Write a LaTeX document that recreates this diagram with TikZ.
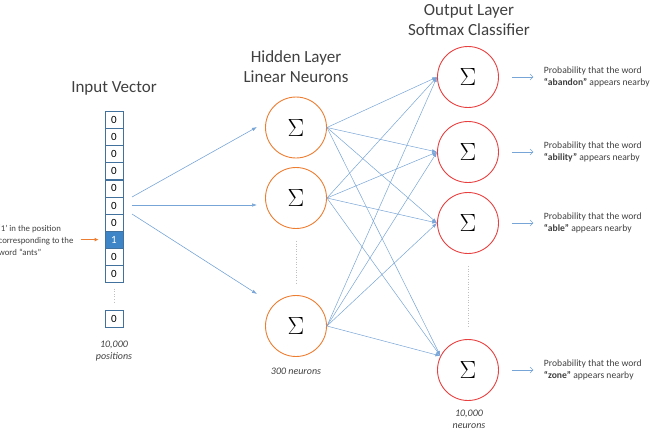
\documentclass[tikz,border=0pt]{standalone}
\usepackage{fontspec}
\setmainfont{Carlito}
\usetikzlibrary{arrows.meta,positioning}

\definecolor{cellblue}{RGB}{65,113,156}
\definecolor{hotblue}{RGB}{61,133,198}
\definecolor{linkblue}{RGB}{120,165,215}
\definecolor{hidorange}{RGB}{237,125,49}
\definecolor{outred}{RGB}{232,64,64}
\definecolor{inktext}{RGB}{64,64,64}

\begin{document}
\begin{tikzpicture}[x=1pt,y=-1pt,
   cell/.style={draw=cellblue, line width=0.8pt, minimum width=18pt, minimum height=17pt,
                inner sep=0pt, font=\fontsize{11}{11}\selectfont},
   bit0/.style={},
   bit1/.style={fill=hotblue, text=white},
   hidden/.style={circle, draw=hidorange, line width=0.9pt, minimum size=61pt, inner sep=0pt,
                  font=\fontsize{28}{28}\selectfont},
   output/.style={hidden, draw=outred},
   title/.style={align=center, text=inktext, font=\fontsize{17}{20}\selectfont},
   count/.style={align=center, text=inktext, font=\fontsize{10}{12.5}\selectfont\itshape},
   prob/.style={align=left, text=inktext, font=\fontsize{9.6}{12}\selectfont},
   feed/.style={draw=linkblue, line width=0.6pt, -{Latex[length=5pt,width=3.5pt]}},
   link/.style={draw=linkblue, line width=0.5pt, -{Latex[length=5pt,width=3.5pt]}},
   result/.style={draw=linkblue, line width=0.6pt, -{Straight Barb[length=3pt,width=6pt]}},
   dots/.style={draw=gray!50, dotted, line width=0.6pt}]

   \useasboundingbox (0,0) rectangle (652,436);

   % input vector
   \node[title] (intitle) at (114,88) {Input Vector};
   \foreach \bit [count=\i from 0] in {0,0,0,0,0,0,0,1,0,0}
      \node[cell, bit\bit] (c\i) at (114,{120.2+17.06*\i}) {\bit};
   \node[cell] (cz) at (114,319) {0};
   \draw[dots, shorten <=6pt, shorten >=6pt] (c9.south) -- (cz.north);
   \node[count] (incount) at (114,351) {10,000\\positions};

   \node[prob, anchor=east, font=\fontsize{8.8}{12}\selectfont] (note) at (77,240)
      {‘1’ in the position\\corresponding to the\\word “ants”};
   \draw[draw=hidorange, line width=0.9pt, -{Latex[length=4pt,width=4pt]}, shorten <=4pt, shorten >=6pt]
      (note.east |- c7.west) -- (c7.west);

   % hidden layer
   \node[title] (hidtitle) at (296,66.5) {Hidden Layer\\Linear Neurons};
   \node[hidden] (h1) at (296,127.5) {$\Sigma$};
   \node[hidden] (h2) at (296,198) {$\Sigma$};
   \node[hidden] (h3) at (296,326) {$\Sigma$};
   \draw[dots, shorten <=12pt, shorten >=10pt] (h2.south) -- (h3.north);
   \node[count] (hidcount) at (296,371) {300 neurons};

   \coordinate (s1) at (132,197);
   \coordinate (s2) at (132,205);
   \coordinate (s3) at (132,214);
   \coordinate (t1) at (257,127);
   \coordinate (t2) at (257,205);
   \coordinate (t3) at (257,294);
   \foreach \k in {1,2,3}
      \draw[feed] (s\k) -- (t\k);

   % output layer
   \node[title] (outtitle) at (469,20.5) {Output Layer\\Softmax Classifier};
   \node[output] (o1) at (468,77) {$\Sigma$};
   \node[output] (o2) at (468,152) {$\Sigma$};
   \node[output] (o3) at (468,223) {$\Sigma$};
   \node[output] (o4) at (468,370) {$\Sigma$};
   \draw[dots, shorten <=12pt, shorten >=12pt] (o3.south) -- (o4.north);
   \node[count] (outcount) at (469,419.5) {10,000\\neurons};

   \foreach \h in {1,2,3}
      \foreach \o/\a in {1/west,2/west,3/west,4/153}
         \draw[link] (h\h.east) -- (o\o.\a);

   % what each output neuron stands for
   \foreach \o/\word in {1/abandon,2/ability,3/able,4/zone} {
      \node[prob, right=41.5pt of o\o] (p\o) {Probability that the word\\\textbf{“\word”} appears nearby};
      \draw[result, shorten <=13pt, shorten >=7pt] (o\o.east) -- (p\o.west);
   }

\end{tikzpicture}
\end{document}
